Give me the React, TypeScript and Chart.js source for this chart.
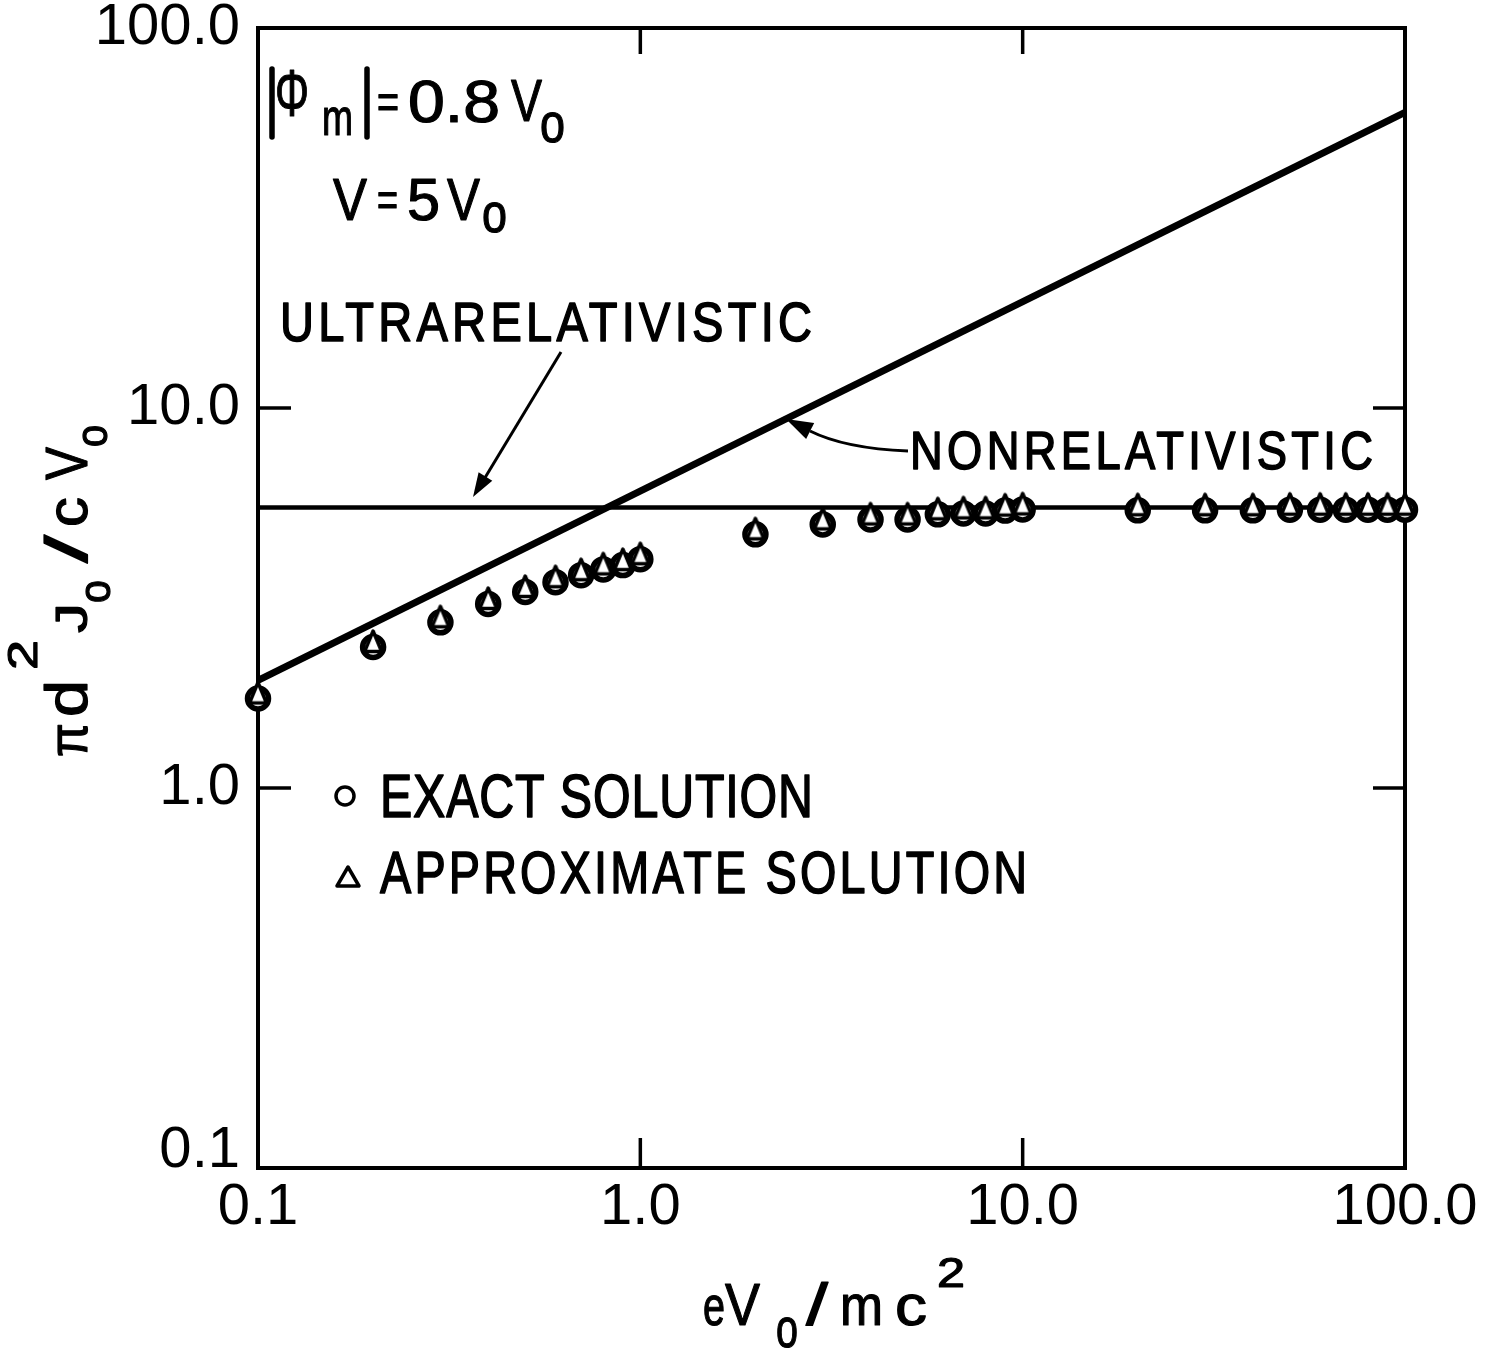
import React, { useEffect, useRef } from "react";
import { Chart, registerables } from "chart.js";

Chart.register(...registerables);

// ---- data ----
const X_VALUES = [0.1, 0.2, 0.3, 0.4, 0.5, 0.6, 0.7, 0.8, 0.9, 1.0, 2, 3, 4, 5, 6, 7, 8, 9, 10, 20, 30, 40, 50, 60, 70, 80, 90, 100];
const EXACT = [1.72, 2.35, 2.73, 3.05, 3.28, 3.48, 3.63, 3.76, 3.86, 4.0, 4.65, 4.94, 5.09, 5.09, 5.25, 5.28, 5.28, 5.37, 5.41, 5.38, 5.38, 5.38, 5.4, 5.4, 5.4, 5.4, 5.4, 5.4];
const APPROX = [1.72, 2.35, 2.73, 3.05, 3.28, 3.48, 3.63, 3.76, 3.86, 4.0, 4.65, 4.94, 5.09, 5.09, 5.25, 5.28, 5.28, 5.37, 5.41, 5.38, 5.38, 5.38, 5.4, 5.4, 5.4, 5.4, 5.4, 5.4];
const NONREL_X = [0.1, 100];
const NONREL_Y = [1.92, 60.0];
const ULTRA_X = [0.1, 100];
const ULTRA_Y = [5.47, 5.47];
const X_TICKS = [0.1, 1, 10, 100];
const X_TICK_LABELS = ["0.1", "1.0", "10.0", "100.0"];
const Y_TICKS = [0.1, 1, 10, 100];
const Y_TICK_LABELS = ["0.1", "1.0", "10.0", "100.0"];

const FONT = "'Liberation Sans', Arial, sans-serif";

function makeTriangleMarker(): HTMLCanvasElement {
  const c = document.createElement("canvas");
  c.width = 34;
  c.height = 38;
  const g = c.getContext("2d")!;
  const cx = 17, cy = 19;
  g.beginPath();
  g.moveTo(cx, cy - 16);
  g.lineTo(cx + 8.5, cy + 4.5);
  g.lineTo(cx - 8.5, cy + 4.5);
  g.closePath();
  g.fillStyle = "#fff";
  g.fill();
  g.lineWidth = 3.5;
  g.lineJoin = "round";
  g.strokeStyle = "#000";
  g.stroke();
  return c;
}

// draw text from (x, baseline), fitted to a width: glyphs squeezed, gaps widened
function T(ctx: CanvasRenderingContext2D, text: string, x: number, baseline: number, size: number, width?: number, squeeze = 0.8, weight = 1.2) {
  ctx.save();
  ctx.font = `${size}px ${FONT}`;
  (ctx as any).letterSpacing = "0px";
  const w0 = ctx.measureText(text).width;
  const n = text.length;
  let sx = 1;
  let ls = 0;
  if (width) {
    if (n > 1 && w0 * squeeze < width) {
      sx = squeeze;
      ls = (width / squeeze - w0) / (n - 1);
    } else {
      sx = width / w0;
    }
  }
  (ctx as any).letterSpacing = `${ls}px`;
  ctx.translate(x, baseline);
  ctx.scale(sx, 1);
  ctx.textAlign = "left";
  ctx.textBaseline = "alphabetic";
  ctx.fillStyle = "#000";
  ctx.strokeStyle = "#000";
  ctx.lineJoin = "round";
  ctx.lineWidth = weight;
  ctx.fillText(text, 0, 0);
  if (weight > 0) ctx.strokeText(text, 0, 0);
  ctx.restore();
}

function line(ctx: CanvasRenderingContext2D, x1: number, y1: number, x2: number, y2: number, lw: number) {
  ctx.beginPath();
  ctx.moveTo(x1, y1);
  ctx.lineTo(x2, y2);
  ctx.lineWidth = lw;
  ctx.stroke();
}

function head(ctx: CanvasRenderingContext2D, tipX: number, tipY: number, dx: number, dy: number, len: number, halfW: number) {
  const n = Math.hypot(dx, dy);
  const ux = dx / n, uy = dy / n;
  const bx = tipX - ux * len, by = tipY - uy * len;
  ctx.beginPath();
  ctx.moveTo(tipX, tipY);
  ctx.lineTo(bx - uy * halfW, by + ux * halfW);
  ctx.lineTo(bx + uy * halfW, by - ux * halfW);
  ctx.closePath();
  ctx.fill();
}

const framePlugin = {
  id: "frame",
  beforeDatasetsDraw(chart: any) {
    const ctx: CanvasRenderingContext2D = chart.ctx;
    const { left, right, top, bottom } = chart.chartArea;
    const xs = chart.scales.x, ys = chart.scales.y;
    ctx.save();
    ctx.strokeStyle = "#000";
    ctx.lineCap = "butt";
    line(ctx, left - 2, top, right + 2, top, 4);
    line(ctx, right, top - 2, right, bottom + 2, 4);
    X_TICKS.forEach((v) => {
      const px = xs.getPixelForValue(v);
      line(ctx, px, bottom, px, bottom - 30, 3.5);
      line(ctx, px, top, px, top + 26, 3.5);
    });
    Y_TICKS.forEach((v) => {
      const py = ys.getPixelForValue(v);
      line(ctx, left, py, left + 33, py, 3.5);
      line(ctx, right, py, right - 32, py, 3.5);
    });
    ctx.restore();
  },
  afterDraw(chart: any) {
    const ctx: CanvasRenderingContext2D = chart.ctx;
    ctx.save();
    ctx.fillStyle = "#000";
    ctx.strokeStyle = "#000";
    ctx.lineCap = "round";

    // |Φm| = 0.8 Vo
    line(ctx, 272, 69, 272, 137, 5.5);
    line(ctx, 367, 69, 367, 137, 5.5);
    T(ctx, "\u03A6", 275, 116, 66, 34);
    T(ctx, "m", 322, 135, 52, 31);
    T(ctx, "=", 377, 118, 48, 22);
    T(ctx, "0.8", 408, 122, 59, 92, 1.2);
    T(ctx, "V", 511, 121, 59, 31);
    T(ctx, "o", 540, 142, 55, 25);
    // V = 5 Vo
    T(ctx, "V", 333, 220, 60, 34);
    T(ctx, "=", 377, 216, 48, 21);
    T(ctx, "5", 407, 220, 60, 33);
    T(ctx, "V", 447, 220, 60, 33);
    T(ctx, "o", 482, 232, 55, 25);

    // ULTRARELATIVISTIC + arrow
    T(ctx, "ULTRARELATIVISTIC", 280, 341, 56, 532, 0.84, 1.6);
    ctx.lineCap = "butt";
    line(ctx, 561, 352, 483, 481, 3);
    head(ctx, 473, 497, 473 - 561, 497 - 352, 24, 8);

    // NONRELATIVISTIC + curved arrow
    T(ctx, "NONRELATIVISTIC", 910, 469, 54, 463, 0.84, 1.6);
    ctx.beginPath();
    ctx.moveTo(908, 451);
    ctx.quadraticCurveTo(845, 448.5, 810, 431);
    ctx.lineWidth = 3;
    ctx.stroke();
    head(ctx, 786, 419, -35, -17.5, 27, 9);

    // legend
    ctx.beginPath();
    ctx.arc(345, 796, 9, 0, Math.PI * 2);
    ctx.lineWidth = 3.5;
    ctx.stroke();
    T(ctx, "EXACT SOLUTION", 380, 817, 62, 433, 0.78, 1.6);
    ctx.beginPath();
    ctx.moveTo(348, 867);
    ctx.lineTo(359, 886);
    ctx.lineTo(337, 886);
    ctx.closePath();
    ctx.lineJoin = "round";
    ctx.lineWidth = 3.5;
    ctx.stroke();
    T(ctx, "APPROXIMATE SOLUTION", 380, 893, 60, 647, 0.78, 1.6);

    // x axis title: eVo / mc^2
    T(ctx, "e", 703, 1325, 56, 22);
    T(ctx, "V", 725, 1325, 60, 35);
    T(ctx, "o", 776, 1347, 56, 22);
    T(ctx, "/", 806, 1325, 60, 22);
    T(ctx, "m", 840, 1325, 58, 43);
    T(ctx, "c", 895, 1325, 58, 32);
    T(ctx, "2", 937, 1287, 42, 28);

    // y axis title: πd^2Jo / cVo (rotated)
    ctx.save();
    ctx.translate(87, 757);
    ctx.rotate(-Math.PI / 2);
    T(ctx, "\u03C0", 0, 0, 56, 34);
    T(ctx, "d", 40, 0, 60, 37);
    T(ctx, "2", 87, -50, 42, 30);
    T(ctx, "J", 124, 0, 44, 30);
    T(ctx, "o", 154, 23, 44, 23);
    T(ctx, "/", 194, 0, 60, 28);
    T(ctx, "c", 230, 0, 58, 30);
    T(ctx, "V", 277, 0, 60, 33);
    T(ctx, "o", 310, 20, 44, 22);
    ctx.restore();

    ctx.restore();
  },
};

export default function App() {
  const ref = useRef<HTMLCanvasElement>(null);
  useEffect(() => {
    document.body.style.margin = "0";
    document.body.style.background = "#fff";
    const canvas = ref.current!;
    const tri = makeTriangleMarker();
    const pts = (xs: number[], ys: number[]) => xs.map((x, i) => ({ x, y: ys[i] }));
    const chart = new Chart(canvas, {
      type: "line",
      data: {
        datasets: [
          {
            label: "APPROXIMATE SOLUTION",
            data: pts(X_VALUES, APPROX),
            showLine: false,
            pointStyle: tri as any,
            pointRadius: 10,
            clip: false as any,
          },
          {
            label: "EXACT SOLUTION",
            data: pts(X_VALUES, EXACT),
            showLine: false,
            pointStyle: "circle",
            pointRadius: 10.5,
            pointBorderWidth: 5.5,
            pointBorderColor: "#000",
            pointBackgroundColor: "#fff",
            clip: false as any,
          },
          {
            label: "NONRELATIVISTIC",
            data: pts(NONREL_X, NONREL_Y),
            borderColor: "#000",
            borderWidth: 7,
            pointRadius: 0,
            tension: 0,
          },
          {
            label: "ULTRARELATIVISTIC",
            data: pts(ULTRA_X, ULTRA_Y),
            borderColor: "#000",
            borderWidth: 4.5,
            pointRadius: 0,
            tension: 0,
          },
        ],
      },
      options: {
        animation: false,
        responsive: false,
        devicePixelRatio: 1,
        layout: { padding: { left: 0, right: 97, top: 28, bottom: 0 } },
        plugins: { legend: { display: false }, tooltip: { enabled: false } },
        scales: {
          x: {
            type: "logarithmic",
            position: "bottom",
            min: 0.1,
            max: 100,
            afterBuildTicks: (s: any) => {
              s.ticks = X_TICKS.map((v) => ({ value: v }));
            },
            afterFit: (s: any) => {
              s.height = 183;
            },
            grid: { display: false, drawTicks: false },
            border: { display: true, color: "#000", width: 4 },
            ticks: {
              autoSkip: false,
              maxRotation: 0,
              padding: 17,
              color: "#000",
              font: { family: FONT, size: 58, lineHeight: 0.8 },
              callback: (v: any) => X_TICK_LABELS[X_TICKS.indexOf(Number(v))],
            },
          },
          y: {
            type: "logarithmic",
            position: "left",
            min: 0.1,
            max: 100,
            afterBuildTicks: (s: any) => {
              s.ticks = Y_TICKS.map((v) => ({ value: v }));
            },
            afterFit: (s: any) => {
              s.width = 258;
            },
            grid: { display: false, drawTicks: false },
            border: { display: true, color: "#000", width: 4 },
            ticks: {
              autoSkip: false,
              padding: 18,
              color: "#000",
              font: { family: FONT, size: 58, lineHeight: 0.2 },
              // the lowest label sits raised above the corner, as in the original
              callback: (v: any) => {
                const i = Y_TICKS.indexOf(Number(v));
                return i === 0 ? [Y_TICK_LABELS[i], "", "", ""] : Y_TICK_LABELS[i];
              },
            },
          },
        },
      } as any,
      plugins: [framePlugin],
    });
    return () => chart.destroy();
  }, []);
  return (
    <div style={{ width: 1502, height: 1351, background: "#fff" }}>
      <canvas ref={ref} width={1502} height={1351} style={{ display: "block" }} />
    </div>
  );
}
